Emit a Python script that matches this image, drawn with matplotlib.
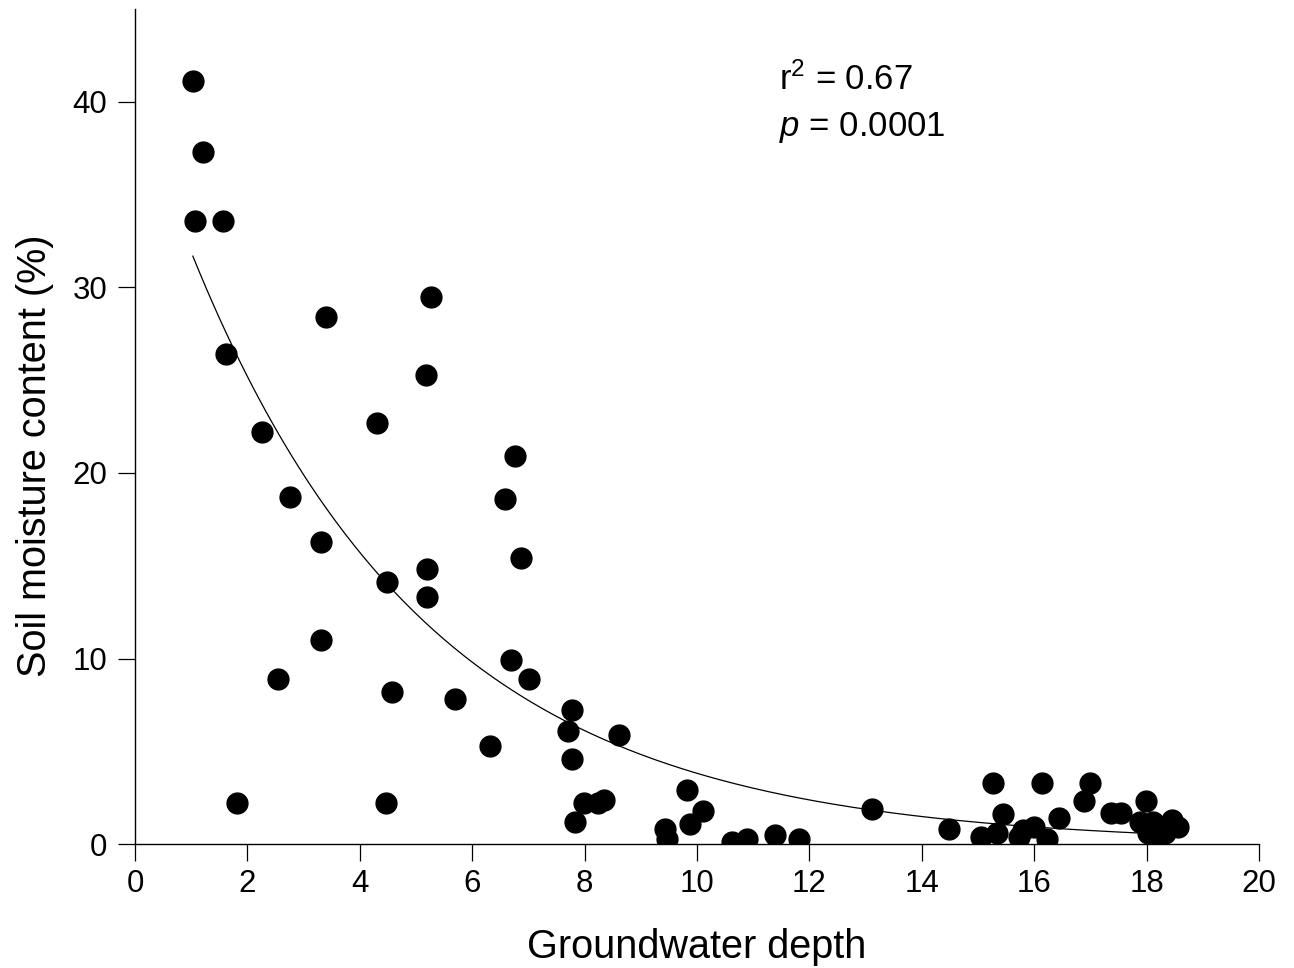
import matplotlib
matplotlib.use("Agg")
import matplotlib.pyplot as plt
import numpy as np

plt.rcParams['font.family'] = ['Liberation Sans', 'DejaVu Sans']
plt.rcParams['mathtext.fontset'] = 'custom'
plt.rcParams['mathtext.rm'] = 'Liberation Sans'
plt.rcParams['mathtext.it'] = 'Liberation Sans:italic'

# Groundwater depth (x) and soil moisture content (%) (y)
depth = [1.03, 1.21, 1.07, 1.57, 1.62, 2.26, 2.76, 1.81, 2.54, 3.31,
         3.31, 3.40, 4.31, 4.48, 4.57, 4.47, 5.20, 5.20, 5.18, 5.27,
         5.69, 6.32, 6.58, 6.76, 6.87, 6.69, 7.01, 7.78, 7.70, 7.78,
         7.83, 7.99, 8.24, 8.34, 8.61, 9.43, 9.47, 9.82, 9.88, 10.11,
         10.62, 10.89, 11.39, 11.81, 13.11, 14.48, 15.27, 16.13, 16.99, 16.89,
         15.44, 16.44, 17.37, 17.54, 17.98, 15.06, 15.33, 15.73, 15.80, 16.00,
         16.22, 17.88, 18.12, 18.45, 18.56, 18.03, 18.33, 18.20]
moisture = [41.1, 37.3, 33.6, 33.6, 26.4, 22.2, 18.7, 2.2, 8.9, 16.3,
            11.0, 28.4, 22.7, 14.1, 8.2, 2.2, 14.8, 13.3, 25.3, 29.5,
            7.8, 5.3, 18.6, 20.9, 15.4, 9.9, 8.9, 7.2, 6.1, 4.6,
            1.2, 2.2, 2.2, 2.4, 5.9, 0.8, 0.3, 2.9, 1.1, 1.8,
            0.1, 0.3, 0.5, 0.3, 1.9, 0.8, 3.3, 3.3, 3.3, 2.3,
            1.6, 1.4, 1.65, 1.65, 2.3, 0.4, 0.6, 0.4, 0.75, 0.9,
            0.25, 1.2, 1.2, 1.3, 0.9, 0.6, 0.6, 0.3]

# fitted exponential decay y = a * exp(-b * x)
fit_a = 40.4
fit_b = 0.236
fit_range = (1.03, 18.6)

xticks = [0, 2, 4, 6, 8, 10, 12, 14, 16, 18, 20]
yticks = [0, 10, 20, 30, 40]

fig = plt.figure(figsize=(12.94, 9.68), dpi=100)
ax = fig.add_axes([0.1043, 0.128, 0.8687, 0.8627])

ax.plot(depth, moisture, 'o', color='black', markersize=15, zorder=3)
xf = np.linspace(fit_range[0], fit_range[1], 300)
ax.plot(xf, fit_a * np.exp(-fit_b * xf), color='black', linewidth=0.9, zorder=2)

ax.set_xlim(0, 20)
ax.set_ylim(0, 45)
ax.set_xticks(xticks)
ax.set_yticks(yticks)
ax.spines['top'].set_visible(False)
ax.spines['right'].set_visible(False)
for s in ['left', 'bottom']:
    ax.spines[s].set_linewidth(1.0)
ax.tick_params(direction='out', length=12, width=0.9, labelsize=22.5)
ax.tick_params(axis='x', pad=6)
ax.tick_params(axis='y', pad=8)

ax.set_xlabel('Groundwater depth', fontsize=28.5)
ax.set_ylabel('Soil moisture content (%)', fontsize=28.5)
ax.xaxis.set_label_coords(0.5, -0.100)
ax.yaxis.set_label_coords(-0.072, 0.465)

ax.text(11.46, 41.2, r'r$^2$ = 0.67', fontsize=25, va='center', ha='left')
ax.text(11.46, 38.6, r'$\mathit{p}$ = 0.0001', fontsize=25, va='center', ha='left')

fig.savefig('out.png', dpi=100)
